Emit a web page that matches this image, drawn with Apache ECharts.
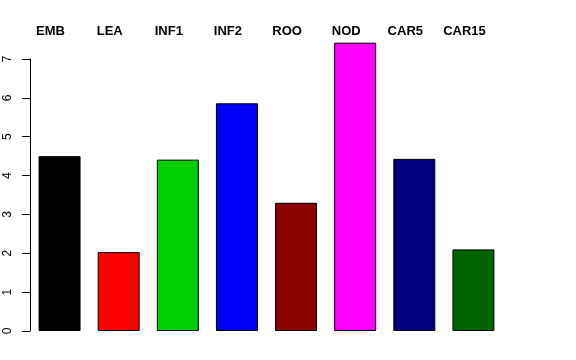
<!DOCTYPE html>
<html><head><meta charset="utf-8">
<script src="https://cdn.jsdelivr.net/npm/echarts@6/dist/echarts.min.js"></script>
<style>html,body{margin:0;padding:0;background:#fff}#c{width:576px;height:360px}</style>
</head><body><div id="c"></div>
<script>
var categories = ['EMB','LEA','INF1','INF2','ROO','NOD','CAR5','CAR15'];
var values = [4.5, 2.03, 4.41, 5.86, 3.30, 7.42, 4.43, 2.10];
var colors = ['#000000','#FF0000','#00CD00','#0000FF','#8B0000','#FF00FF','#000080','#006400'];
var yTicks = [0,1,2,3,4,5,6,7];

var chart = echarts.init(document.getElementById('c'), null, {renderer:'canvas'});
chart.setOption({
  animation:false,
  backgroundColor:'#ffffff',
  grid:{left:30, right:73, top:59, bottom:29, containLabel:false},
  xAxis:{
    type:'category', data:categories, position:'top',
    axisLine:{show:false}, axisTick:{show:false},
    axisLabel:{fontFamily:'Liberation Sans', fontWeight:'bold', fontSize:13, color:'#000', margin:21, padding:[0,18,0,0]}
  },
  yAxis:{
    type:'value', min:yTicks[0], max:yTicks[yTicks.length-1], interval:1,
    splitLine:{show:false},
    axisLine:{show:true, lineStyle:{color:'#000', width:1}},
    axisTick:{show:true, length:8, lineStyle:{color:'#000'}},
    axisLabel:{rotate:90, fontFamily:'Liberation Sans', fontSize:12, color:'#000', margin:16}
  },
  series:[{
    type:'bar', clip:false, barWidth:'71%',
    data: values.map(function(v,i){return {value:v, itemStyle:{color:colors[i]}};}),
    itemStyle:{borderColor:'#000', borderWidth:1}
  }]
});
</script></body></html>
